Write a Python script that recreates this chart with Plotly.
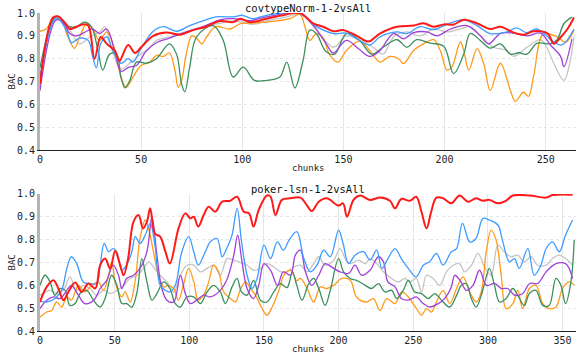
import plotly.graph_objects as go
from plotly.subplots import make_subplots

TITLES = ["covtypeNorm-1-2vsAll", "poker-lsn-1-2vsAll"]

# ---- covtypeNorm-1-2vsAll (top) : (chunk, BAC) key points
COV_RED_X = [0, 6.4, 9, 13, 14.7, 21, 23.8, 27, 30, 33, 37, 38.6, 39.4, 43.6, 47, 50, 56, 62.5, 69, 75.7, 82, 89,
             95.5, 99, 104, 112, 120, 128.5, 135, 140, 145, 150, 156.6, 162.4, 168, 176.5, 184.7, 189.6, 194.6,
             199.6, 204.5, 209.5, 216, 222.6, 227.6, 234, 239, 244, 251, 254, 257.5, 260.8, 264]
COV_RED_Y = [0.69, 0.98, 0.985, 0.95, 0.93, 0.95, 0.945, 0.80, 0.895, 0.865, 0.835, 0.80, 0.79, 0.86, 0.825, 0.85,
             0.90, 0.915, 0.905, 0.925, 0.94, 0.965, 0.96, 0.975, 0.96, 0.975, 0.99, 1.0, 0.955, 0.94, 0.92, 0.925,
             0.90, 0.875, 0.91, 0.94, 0.945, 0.955, 0.94, 0.95, 0.95, 0.97, 0.955, 0.93, 0.94, 0.915, 0.905, 0.92,
             0.91, 0.865, 0.895, 0.93, 0.98]

COV_BLUE_X = [0, 8, 13, 15.5, 19.6, 23.8, 26, 27.9, 30, 33, 36, 40, 43.6, 46, 50, 56, 61, 67.5, 74, 82, 87, 95.5,
              100, 105, 112, 128.5, 135, 145, 151.5, 163, 168, 176.5, 181.4, 188, 194.6, 201, 209.5, 216, 222.6,
              231, 235.6, 240.6, 245.5, 250.5, 253, 258, 264]
COV_BLUE_Y = [0.72, 0.98, 0.925, 0.87, 0.89, 0.88, 0.81, 0.76, 0.865, 0.895, 0.835, 0.78, 0.80, 0.785, 0.845, 0.92,
              0.94, 0.92, 0.945, 0.97, 0.983, 0.983, 0.99, 0.975, 0.99, 1.0, 0.95, 0.91, 0.912, 0.86, 0.895, 0.917,
              0.91, 0.94, 0.927, 0.95, 0.97, 0.945, 0.91, 0.917, 0.935, 0.914, 0.93, 0.90, 0.88, 0.86, 0.93]

COV_PURPLE_X = [0, 8, 11.4, 14.7, 18, 23, 26, 29.5, 33, 37, 40, 44, 47.7, 52.6, 57.6, 64, 72.4, 80.7, 89, 95.5, 104,
                112, 128.5, 135, 141.5, 145, 151.5, 158, 163, 168, 174.8, 179.8, 184.7, 191.3, 196.3, 202.9, 211.1,
                217.7, 221.8, 227.6, 234.2, 240.8, 247.4, 252.4, 257.4, 259, 263]
COV_PURPLE_Y = [0.66, 0.97, 0.96, 0.91, 0.90, 0.92, 0.93, 0.91, 0.93, 0.83, 0.745, 0.763, 0.77, 0.835, 0.87, 0.89,
                0.917, 0.94, 0.97, 0.975, 0.967, 0.983, 0.997, 0.945, 0.865, 0.825, 0.88, 0.84, 0.81, 0.835, 0.91,
                0.887, 0.914, 0.917, 0.90, 0.93, 0.945, 0.90, 0.865, 0.91, 0.912, 0.90, 0.912, 0.86, 0.81, 0.765,
                0.887]

COV_SILVER_X = [0, 8, 14.7, 19.6, 24.6, 29.5, 32, 36, 40, 45, 49, 54, 57.6, 64, 72.4, 80.7, 89, 95.5, 100, 105, 112,
                122, 128.5, 135, 145, 151.5, 158, 164.6, 169.6, 174.8, 181.4, 188, 194.6, 201, 207.8, 212.7, 219.3,
                224.3, 231, 234.2, 240.8, 247.4, 250.5, 254, 259, 261.4, 264]
COV_SILVER_Y = [0.70, 0.975, 0.925, 0.865, 0.895, 0.917, 0.94, 0.83, 0.755, 0.785, 0.815, 0.845, 0.88, 0.895, 0.92,
                0.94, 0.955, 0.965, 0.96, 0.95, 0.965, 0.983, 0.995, 0.95, 0.85, 0.90, 0.88, 0.85, 0.82, 0.895, 0.917,
                0.90, 0.93, 0.917, 0.93, 0.94, 0.887, 0.85, 0.836, 0.81, 0.85, 0.883, 0.85, 0.78, 0.705, 0.76, 0.895]

COV_GREEN_X = [0, 6.4, 9, 13, 18, 22, 25.4, 28.7, 31, 34.5, 37.8, 40, 42, 44.4, 47.7, 52.6, 57.6, 64, 67.5, 70, 71.6,
               74, 77.4, 85.6, 90.6, 95.5, 100.5, 106, 112, 118.6, 122, 126, 130, 133.4, 136.6, 141.5, 145.7, 151.5,
               158, 164, 169.6, 176.5, 181.4, 186.3, 192.9, 199.6, 204.5, 209.5, 212.7, 217.7, 222.6, 227.6, 232.6,
               236.7, 240.8, 245.8, 252.4, 255.7, 259, 263]
COV_GREEN_Y = [0.76, 0.97, 0.985, 0.945, 0.94, 0.96, 0.94, 0.835, 0.75, 0.82, 0.82, 0.72, 0.672, 0.705, 0.785, 0.78,
               0.80, 0.865, 0.82, 0.69, 0.655, 0.763, 0.895, 0.945, 0.88, 0.72, 0.763, 0.705, 0.705, 0.72, 0.785,
               0.672, 0.79, 0.925, 0.91, 0.83, 0.82, 0.91, 0.88, 0.82, 0.85, 0.883, 0.85, 0.883, 0.868, 0.854, 0.735,
               0.82, 0.91, 0.88, 0.846, 0.865, 0.82, 0.826, 0.82, 0.868, 0.865, 0.883, 0.953, 0.982]

COV_ORANGE_X = [0, 3, 7.3, 9.7, 13.9, 17, 19.6, 23, 26, 29.5, 33, 37, 40, 42.7, 46, 50, 54.3, 57.6, 61, 64, 66.7,
                68.3, 70, 72.4, 75, 77.4, 80, 82.3, 87, 94, 99, 104, 112, 123.6, 128.5, 131, 133.4, 136.6, 140, 143,
                147.3, 151.5, 158, 163, 168, 173, 177.3, 179.8, 184.7, 189.6, 194.6, 197.9, 201.2, 203.6, 207.8,
                209.5, 212, 216.1, 219.4, 222.6, 227.6, 232.6, 235, 239, 241.5, 244, 249, 255.7, 260, 264]
COV_ORANGE_Y = [0.92, 0.93, 0.983, 0.983, 0.895, 0.845, 0.895, 0.953, 0.93, 0.88, 0.917, 0.84, 0.72, 0.675, 0.72,
                0.77, 0.785, 0.815, 0.81, 0.825, 0.75, 0.675, 0.705, 0.825, 0.90, 0.89, 0.865, 0.895, 0.94, 0.93,
                0.953, 0.956, 0.96, 0.975, 0.995, 0.94, 0.88, 0.91, 0.89, 0.82, 0.785, 0.836, 0.877, 0.836, 0.785,
                0.81, 0.80, 0.778, 0.836, 0.865, 0.883, 0.836, 0.75, 0.763, 0.873, 0.836, 0.75, 0.844, 0.778, 0.66,
                0.78, 0.66, 0.613, 0.653, 0.635, 0.72, 0.91, 0.895, 0.873, 0.925]

# ---- poker-lsn-1-2vsAll (bottom)
POK_RED_X = [0, 4.5, 9, 12.3, 15.7, 19, 23.5, 28, 32.4, 37, 40.3, 43.6, 47, 50.3, 53.7, 56, 59, 62.6, 66, 69, 71.6,
             73.8, 77, 80.5, 84, 87, 92.8, 97.3, 100.7, 103, 106, 109.6, 113, 117.4, 122, 127.5, 132, 136.5, 140,
             143, 146.5, 152, 154.4, 157.7, 162, 167.8, 174.4, 178.9, 182, 186.7, 192, 200, 203, 205.6, 210, 214.4,
             221, 227.8, 234.4, 237.8, 242, 247.8, 252, 255.5, 258.9, 262, 265.5, 270, 275.5, 281, 286.7, 292,
             296.7, 301, 306.7, 312, 316.7, 328, 339, 343.3, 356.7]
POK_RED_Y = [0.527, 0.593, 0.622, 0.586, 0.535, 0.571, 0.612, 0.571, 0.608, 0.586, 0.688, 0.717, 0.674, 0.75, 0.688,
             0.644, 0.717, 0.878, 0.908, 0.849, 0.878, 0.937, 0.827, 0.813, 0.747, 0.695, 0.849, 0.915, 0.893, 0.90,
             0.857, 0.908, 0.944, 0.922, 0.966, 0.97, 0.988, 0.922, 0.915, 0.857, 0.93, 0.993, 0.988, 0.908, 0.974,
             0.981, 0.984, 0.949, 0.925, 0.966, 0.981, 0.949, 0.959, 0.90, 0.974, 0.993, 0.974, 0.984, 0.97, 0.937,
             0.978, 0.97, 0.988, 0.922, 0.849, 0.922, 0.984, 0.981, 0.959, 0.993, 0.966, 0.981, 0.97, 0.974, 0.959,
             0.97, 0.993, 0.993, 0.984, 0.995, 0.997]

POK_BLUE_X = [0, 4.5, 10, 14.5, 18, 21, 24.6, 29, 33.5, 38, 40.3, 43, 46, 49, 51.5, 54.8, 58, 61.5, 63.8, 67, 70.5,
              73.8, 77, 80.5, 84, 87, 90.6, 95, 99.6, 103, 106, 110.7, 114, 118.6, 122, 125, 128.6, 132, 135, 138.7,
              142, 145.4, 150, 154.4, 159, 163, 167, 172, 176.7, 181, 185.5, 190, 194.4, 200, 203, 206.7, 211, 216.7,
              221, 225.5, 229, 233, 237.8, 242, 246.7, 252, 256.7, 261, 265.5, 270, 275.5, 279, 283, 287.8, 292,
              296.7, 301, 306.7, 310, 314.4, 317.8, 321, 326.7, 331, 335.5, 339, 343.3, 347.8, 352, 356.7]
POK_BLUE_Y = [0.53, 0.527, 0.542, 0.578, 0.674, 0.725, 0.695, 0.615, 0.608, 0.608, 0.688, 0.783, 0.747, 0.761, 0.747,
              0.666, 0.688, 0.747, 0.813, 0.783, 0.82, 0.871, 0.776, 0.60, 0.578, 0.571, 0.60, 0.747, 0.813, 0.747,
              0.688, 0.747, 0.79, 0.805, 0.725, 0.76, 0.82, 0.937, 0.79, 0.644, 0.586, 0.63, 0.776, 0.717, 0.79,
              0.754, 0.80, 0.835, 0.717, 0.659, 0.688, 0.754, 0.725, 0.842, 0.783, 0.695, 0.732, 0.747, 0.71, 0.754,
              0.674, 0.717, 0.761, 0.717, 0.674, 0.637, 0.688, 0.703, 0.74, 0.688, 0.747, 0.761, 0.871, 0.79, 0.805,
              0.893, 0.886, 0.864, 0.79, 0.703, 0.717, 0.674, 0.761, 0.644, 0.688, 0.761, 0.79, 0.747, 0.82, 0.886]

POK_PURPLE_X = [0, 4.5, 9, 13.4, 18, 21, 25.7, 30, 36, 40.3, 44.7, 49, 52.6, 54.8, 58, 62.6, 67, 71.6, 75, 78.3,
                81.6, 85, 89.5, 94, 97.3, 100.7, 105, 109.6, 114, 120.8, 125, 129.8, 132.4, 135, 138.7, 143, 146.5,
                150, 154.4, 159, 163, 167.8, 171, 174.4, 177.8, 182, 186.7, 191, 196.7, 201, 206.7, 211, 215.5, 221,
                226.7, 230, 233, 237.8, 242, 246.7, 252, 256.7, 261, 266.7, 271, 275.5, 277.8, 282, 285.5, 290, 294.4,
                299, 304.4, 309, 313.3, 317.8, 323.3, 328, 333.3, 339, 345.6, 352, 354.4, 356.7]
POK_PURPLE_Y = [0.498, 0.535, 0.549, 0.542, 0.578, 0.60, 0.557, 0.52, 0.535, 0.586, 0.622, 0.688, 0.644, 0.586, 0.63,
                0.644, 0.674, 0.747, 0.90, 0.732, 0.586, 0.535, 0.527, 0.644, 0.564, 0.52, 0.535, 0.557, 0.549, 0.578,
                0.622, 0.732, 0.82, 0.717, 0.586, 0.542, 0.60, 0.695, 0.666, 0.60, 0.659, 0.644, 0.732, 0.754, 0.659,
                0.60, 0.644, 0.695, 0.674, 0.659, 0.652, 0.688, 0.644, 0.666, 0.725, 0.703, 0.615, 0.593, 0.542,
                0.535, 0.549, 0.52, 0.505, 0.52, 0.542, 0.593, 0.644, 0.615, 0.578, 0.60, 0.666, 0.60, 0.608, 0.586,
                0.586, 0.557, 0.564, 0.608, 0.608, 0.659, 0.695, 0.695, 0.674, 0.63]

POK_SILVER_X = [0, 6.7, 11, 15.7, 20, 24.6, 29, 33.5, 38, 42.5, 47, 51.5, 56, 60.4, 65, 69.4, 72.7, 76, 80.5, 85,
                89.5, 94, 98.4, 103, 107.4, 111.9, 116.3, 120.8, 125.3, 129.8, 134, 138.7, 143, 147.7, 152, 156.6,
                161, 165.5, 170, 174.4, 178.9, 183.3, 186.7, 191, 196.7, 201, 204.4, 207.8, 213.3, 217.8, 221, 225.5,
                230, 235.5, 240, 244.4, 247.8, 252, 255.5, 258.9, 263.3, 267.8, 272.2, 276.7, 281, 284.4, 289, 293.3,
                297.8, 302.2, 306.7, 311, 315.5, 320, 324.4, 328.9, 333.3, 339, 343.3, 347.8, 352, 356.7]
POK_SILVER_Y = [0.556, 0.578, 0.564, 0.578, 0.637, 0.578, 0.60, 0.586, 0.556, 0.578, 0.564, 0.578, 0.60, 0.63, 0.644,
                0.674, 0.703, 0.68, 0.644, 0.615, 0.571, 0.644, 0.688, 0.688, 0.659, 0.674, 0.688, 0.644, 0.717,
                0.71, 0.70, 0.688, 0.666, 0.674, 0.695, 0.68, 0.66, 0.66, 0.68, 0.688, 0.659, 0.695, 0.725, 0.688,
                0.71, 0.761, 0.717, 0.695, 0.71, 0.695, 0.717, 0.695, 0.659, 0.63, 0.615, 0.63, 0.615, 0.63, 0.571,
                0.644, 0.63, 0.60, 0.659, 0.688, 0.695, 0.659, 0.688, 0.74, 0.68, 0.644, 0.776, 0.747, 0.725, 0.732,
                0.703, 0.725, 0.688, 0.688, 0.717, 0.732, 0.717, 0.688]

POK_GREEN_X = [0, 3.4, 6.7, 10, 13.4, 16.8, 20, 23.5, 26.8, 31.3, 35.8, 40.3, 43.6, 48, 51.5, 54.8, 58, 61.5, 65,
               68.2, 71.6, 75, 78.3, 82.8, 87, 90.6, 94, 98.4, 103, 107.4, 111.9, 116.3, 120.8, 124.2, 128.6, 132,
               135, 138.7, 143, 147.7, 152, 156.6, 161, 165.5, 169, 172, 175.5, 180, 183.3, 186.7, 191, 194.4, 200,
               203.3, 207.8, 212, 217.8, 222, 226.7, 231, 235.5, 238.9, 243.3, 246.7, 251, 255.5, 260, 264.4, 268.9,
               274.4, 279, 282.2, 285.5, 288.9, 292.2, 295.5, 298.9, 301, 304.4, 307.8, 312.2, 316.7, 320, 324.4,
               327.8, 332.2, 336.7, 341, 345.6, 348.9, 352, 355.6, 357.8]
POK_GREEN_Y = [0.60, 0.644, 0.615, 0.556, 0.586, 0.578, 0.512, 0.52, 0.564, 0.578, 0.535, 0.505, 0.542, 0.644, 0.60,
               0.52, 0.52, 0.505, 0.571, 0.717, 0.615, 0.535, 0.564, 0.615, 0.586, 0.52, 0.505, 0.549, 0.549, 0.52,
               0.571, 0.60, 0.571, 0.52, 0.593, 0.63, 0.571, 0.557, 0.622, 0.535, 0.527, 0.571, 0.607, 0.59, 0.659,
               0.60, 0.535, 0.607, 0.63, 0.586, 0.512, 0.578, 0.717, 0.659, 0.63, 0.622, 0.60, 0.586, 0.607, 0.571,
               0.578, 0.542, 0.578, 0.622, 0.571, 0.564, 0.542, 0.564, 0.535, 0.505, 0.556, 0.60, 0.607, 0.542,
               0.505, 0.556, 0.637, 0.674, 0.60, 0.527, 0.542, 0.586, 0.556, 0.512, 0.564, 0.578, 0.512, 0.512, 0.63,
               0.60, 0.52, 0.615, 0.798]

POK_ORANGE_X = [0, 4.5, 7.8, 11.2, 14.5, 18, 21, 25.7, 30, 34.7, 39, 42.5, 46, 48, 50.3, 52.6, 54.8, 57, 60.4, 63.8,
                67, 70.5, 72.7, 76, 79.4, 82.8, 86, 89.5, 92.8, 96, 99.6, 103, 106, 109.6, 113, 116.3, 119.7, 123,
                127.5, 130.9, 134, 137.6, 141, 144.3, 148.8, 152, 155.5, 160, 163.3, 167.8, 172, 174.4, 178.9, 183.3,
                187.8, 192, 196.7, 202.2, 207.8, 212, 218.9, 223.3, 227.8, 232.2, 237.8, 242.2, 246.7, 252.2, 255.5,
                258.9, 262.2, 265.5, 270, 274.4, 279, 283.3, 287.8, 292.2, 295.5, 298.9, 302.2, 305.5, 308.9, 312.2,
                316.7, 320, 323.3, 327.8, 332.2, 336.7, 341, 345.6, 350, 354.4, 357.8]
POK_ORANGE_Y = [0.461, 0.483, 0.49, 0.527, 0.505, 0.549, 0.535, 0.60, 0.571, 0.60, 0.615, 0.578, 0.644, 0.703, 0.615,
                0.571, 0.549, 0.571, 0.527, 0.622, 0.805, 0.886, 0.849, 0.747, 0.644, 0.593, 0.60, 0.586, 0.535, 0.60,
                0.674, 0.615, 0.535, 0.557, 0.615, 0.688, 0.659, 0.571, 0.542, 0.527, 0.578, 0.615, 0.586, 0.557,
                0.498, 0.469, 0.505, 0.578, 0.644, 0.666, 0.62, 0.63, 0.586, 0.527, 0.593, 0.586, 0.60, 0.63, 0.622,
                0.549, 0.527, 0.542, 0.49, 0.542, 0.52, 0.571, 0.549, 0.498, 0.469, 0.498, 0.483, 0.527, 0.578, 0.52,
                0.586, 0.637, 0.571, 0.527, 0.571, 0.747, 0.842, 0.798, 0.644, 0.498, 0.52, 0.578, 0.498, 0.586, 0.60,
                0.52, 0.498, 0.505, 0.586, 0.615, 0.60]

Y_TICKS = [0.4, 0.5, 0.6, 0.7, 0.8, 0.9, 1.0]

SERIES = [
    ("silver", "#c4c4c4", 1.3, COV_SILVER_X, COV_SILVER_Y, POK_SILVER_X, POK_SILVER_Y),
    ("orange", "#ff9a1a", 1.3, COV_ORANGE_X, COV_ORANGE_Y, POK_ORANGE_X, POK_ORANGE_Y),
    ("green", "#3a8f5c", 1.3, COV_GREEN_X, COV_GREEN_Y, POK_GREEN_X, POK_GREEN_Y),
    ("purple", "#a040d8", 1.3, COV_PURPLE_X, COV_PURPLE_Y, POK_PURPLE_X, POK_PURPLE_Y),
    ("blue", "#3d9bff", 1.3, COV_BLUE_X, COV_BLUE_Y, POK_BLUE_X, POK_BLUE_Y),
    ("red", "#ff1a1a", 2.0, COV_RED_X, COV_RED_Y, POK_RED_X, POK_RED_Y),
]

MONO = "DejaVu Sans Mono"

fig = make_subplots(rows=2, cols=1, vertical_spacing=0.138)

for name, color, width, cx, cy, px, py in SERIES:
    for row, xs, ys in ((1, cx, cy), (2, px, py)):
        fig.add_trace(go.Scatter(
            x=xs, y=ys, mode="lines", name=name, showlegend=False,
            line=dict(color=color, width=width, shape="spline", smoothing=1.0),
            hoverinfo="skip",
        ), row=row, col=1)

fig.update_layout(
    width=586, height=354,
    margin=dict(l=40, r=10, t=13, b=23),
    plot_bgcolor="white", paper_bgcolor="white",
    font=dict(family=MONO, size=10, color="#222"),
)
fig.update_layout(
    yaxis=dict(domain=[0.569, 1.0]),
    yaxis2=dict(domain=[0.0, 0.431]),
)

fig.update_yaxes(
    range=[0.4, 1.0], tickvals=Y_TICKS, tickformat=".1f",
    showgrid=True, gridcolor="#e6e6e6", griddash="dot", gridwidth=1,
    showline=True, linecolor="#b5b5b5", linewidth=3,
    zeroline=False, ticks="", tickfont=dict(size=10), automargin=False,
)
fig.update_xaxes(
    showgrid=True, gridcolor="#e6e6e6", gridwidth=1, dtick=50,
    showline=True, linecolor="#222", linewidth=1,
    zeroline=False, ticks="", tickfont=dict(size=10), automargin=False,
)
fig.update_xaxes(range=[0, 265], row=1, col=1)
fig.update_xaxes(range=[0, 359], row=2, col=1)

for i, title in enumerate(TITLES):
    xd = "x domain" if i == 0 else "x2 domain"
    yd = "y domain" if i == 0 else "y2 domain"
    fig.add_annotation(
        text=title, xref=xd, yref=yd, x=0.5, y=1.0, yanchor="bottom", yshift=-2,
        showarrow=False, borderpad=0, font=dict(family=MONO, size=10.5, color="#111"),
    )
    fig.add_annotation(
        text="chunks", xref=xd, yref=yd, x=0.5, y=0, yanchor="top", yshift=-11,
        showarrow=False, font=dict(family=MONO, size=9, color="#222"),
    )
    fig.add_annotation(
        text="BAC", xref="paper", yref=yd, x=0, y=0.5, xanchor="center", xshift=-28,
        textangle=-90, showarrow=False, font=dict(family=MONO, size=9, color="#222"),
    )

# the page body has a default 8px margin; drop it so the figure sits at the window's corner
fig.write_html("out.html", config={"displayModeBar": False},
               post_script="document.body.style.margin='0';")
